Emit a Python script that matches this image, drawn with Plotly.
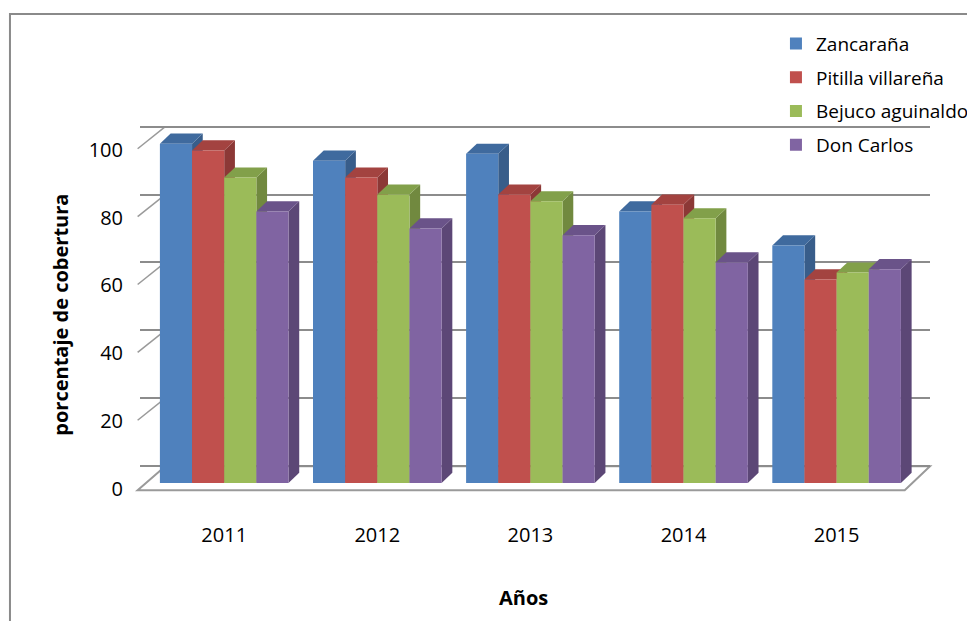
import plotly.graph_objects as go

years = ["2011", "2012", "2013", "2014", "2015"]
series_names = ["Zancaraña", "Pitilla villareña", "Bejuco aguinaldo", "Don Carlos"]
zancarana = [100, 95, 97, 80, 70]
pitilla = [98, 90, 85, 82, 60]
bejuco = [90, 85, 83, 78, 62]
don_carlos = [80, 75, 73, 65, 63]
series_values = [zancarana, pitilla, bejuco, don_carlos]
y_ticks = [0, 20, 40, 60, 80, 100]

front_colors = ["#4F81BD", "#C0504D", "#9BBB59", "#8064A2"]
side_colors = ["#385D8A", "#8C3836", "#71893F", "#5C4776"]
top_colors = ["#3F6A9E", "#A34340", "#82A04A", "#6A5389"]

FONT = "Open Sans, sans-serif"
bargap = 0.16
n = len(series_names)
w = (1 - bargap) / n
dx = 0.07   # depth in category units
dy = 3.0    # depth in value units
wall = 5.0  # back-wall offset in value units
ytop = 105.5

fig = go.Figure()
xs = list(range(len(years)))
for j, (name, vals) in enumerate(zip(series_names, series_values)):
    fig.add_trace(go.Bar(
        x=xs, y=vals, name=name, legendgroup=f"g{j}",
        marker=dict(color=front_colors[j], line=dict(width=0)),
    ))
fig.add_trace(go.Scatter(x=[xs[0]], y=[0], yaxis="y2", mode="markers",
                         marker=dict(opacity=0), showlegend=False, hoverinfo="skip"))

shapes = []
for j, vals in enumerate(series_values):
    for i, v in enumerate(vals):
        xc = i + (j - (n - 1) / 2) * w
        xl, xr = xc - w / 2, xc + w / 2
        shapes.append(dict(
            type="path", xref="x", yref="y", layer="between",
            path=f"M {xr},0 L {xr+dx},{dy} L {xr+dx},{v+dy} L {xr},{v} Z",
            fillcolor=side_colors[j], line=dict(width=0),
        ))
        shapes.append(dict(
            type="path", xref="x", yref="y", layer="between",
            path=f"M {xl},{v} L {xl+dx},{v+dy} L {xr+dx},{v+dy} L {xr},{v} Z",
            fillcolor=top_colors[j], line=dict(width=0),
        ))

for t in y_ticks[1:]:
    shapes.append(dict(type="line", xref="paper", yref="y", layer="below",
                       x0=-0.003, y0=t - 1.5, x1=0.032, y1=t + wall,
                       line=dict(color="#9a9a9a", width=1.5)))

shapes.append(dict(type="path", xref="paper", yref="paper", layer="below",
                   path="M -0.003,-0.02 L 0.968,-0.02 L 1.0,0.047 L 0.032,0.047 Z",
                   fillcolor="rgba(0,0,0,0)", line=dict(color="#9a9a9a", width=2)))
shapes.append(dict(type="rect", xref="paper", yref="paper",
                   x0=-0.1646, y0=-0.45, x1=1.12, y1=1.31,
                   fillcolor="rgba(0,0,0,0)", line=dict(color="#8a8a8a", width=2)))

fig.update_layout(
    width=975, height=621,
    margin=dict(l=132, r=53, t=117, b=146, autoexpand=False),
    paper_bgcolor="white", plot_bgcolor="white",
    barmode="group", bargap=bargap, bargroupgap=0,
    font=dict(family=FONT, size=20, color="#000000"),
    shapes=shapes,
    showlegend=True,
    legend=dict(x=0.805, y=1.28, xanchor="left", yanchor="top",
                bgcolor="rgba(0,0,0,0)", font=dict(size=19, family=FONT),
                tracegroupgap=6, itemwidth=30),
    xaxis=dict(tickmode="array", tickvals=xs, ticktext=years,
               range=[-0.55, 4.61], showgrid=False, zeroline=False,
               showline=False, ticks="", ticklabelstandoff=38,
               tickfont=dict(size=20, family=FONT)),
    yaxis=dict(range=[0, ytop], tickmode="array", tickvals=y_ticks,
               showgrid=False, zeroline=False, showline=False, ticks="",
               ticklabelstandoff=16, ticklabelshift=6,
               tickfont=dict(size=20, family=FONT)),
    yaxis2=dict(range=[-wall, ytop - wall], overlaying="y", side="right",
                tickmode="array", tickvals=y_ticks, showticklabels=False,
                showgrid=True, gridcolor="#8c8c8c", gridwidth=1.5,
                zeroline=False, showline=False, ticks=""),
    annotations=[
        dict(text="<b>porcentaje de cobertura</b>", xref="paper", yref="paper",
             x=-0.1, y=0.47, xanchor="center", yanchor="middle",
             textangle=-90, showarrow=False,
             font=dict(size=20, family=FONT)),
        dict(text="<b>Años</b>", xref="paper", yref="paper",
             x=0.485, y=-0.321, xanchor="center", yanchor="middle", showarrow=False,
             font=dict(size=20, family=FONT)),
    ],
)

fig.write_html("out.html")
